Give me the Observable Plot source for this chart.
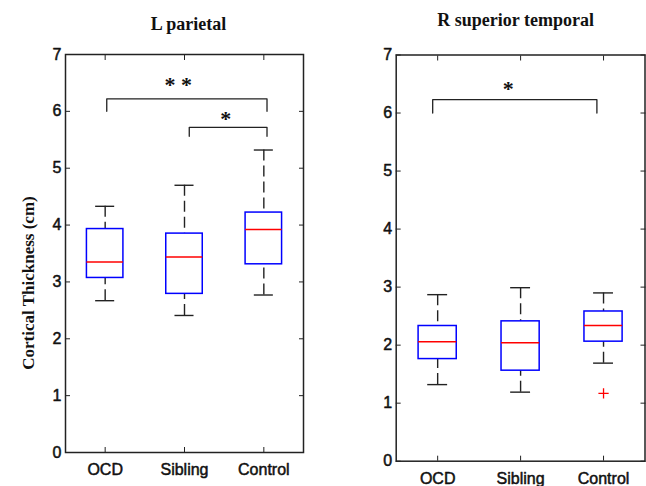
<!DOCTYPE html>
<html><head><meta charset="utf-8">
<script src="https://cdn.jsdelivr.net/npm/d3@7"></script>
<script src="https://cdn.jsdelivr.net/npm/@observablehq/plot@0.6"></script>
<style>
body{margin:0;background:#fff;}
#wrap{position:relative;width:646px;height:486px;overflow:hidden;background:#fff;}
#wrap svg{position:absolute;top:0;}
#ylabel{position:absolute;left:28px;top:282.5px;transform:translate(-50%,-50%) rotate(-90deg);
  white-space:nowrap;font:bold 17px 'Liberation Serif','Times New Roman',serif;color:#111;line-height:1;}
</style></head><body><div id="wrap"><div id="ylabel"></div></div>
<script>
const categories = ["OCD", "Sibling", "Control"];
const yTicks = [0, 1, 2, 3, 4, 5, 6, 7];
const xTicks = [1, 2, 3];
const yLabel = "Cortical Thickness (cm)";

// L parietal
const lpLow  = [2.67, 2.41, 2.77];
const lpQ1   = [3.07, 2.79, 3.31];
const lpMed  = [3.35, 3.44, 3.92];
const lpQ3   = [3.93, 3.85, 4.22];
const lpHigh = [4.33, 4.70, 5.32];
const lpOutliers = [];
const lpBrackets = [
  {x1: 1.02, x2: 3.04, y: 6.22, base: 6.0, label: "* *", lx: 1.92, ly: 6.54},
  {x1: 2.06, x2: 3.04, y: 5.72, base: 5.56, label: "*", lx: 2.52, ly: 5.93}
];

// R superior temporal
const rstLow  = [1.32, 1.19, 1.69];
const rstQ1   = [1.76, 1.56, 2.06];
const rstMed  = [2.06, 2.04, 2.34];
const rstQ3   = [2.33, 2.41, 2.58];
const rstHigh = [2.87, 2.99, 2.90];
const rstOutliers = [{pos: 3, value: 1.17}];
const rstBrackets = [
  {x1: 0.94, x2: 2.92, y: 6.23, base: 6.0, label: "*", lx: 1.85, ly: 6.48}
];

const BOX_HALF = 0.23, CAP_HALF = 0.12;
const INK = "#222";

function panel(o) {
  const data = categories.map((c, i) => ({
    pos: i + 1, low: o.low[i], q1: o.q1[i], med: o.med[i], q3: o.q3[i], high: o.high[i]
  }));
  const bpts = o.brackets.flatMap((b, i) => [
    {id: i, x: b.x1, y: b.base}, {id: i, x: b.x1, y: b.y},
    {id: i, x: b.x2, y: b.y}, {id: i, x: b.x2, y: b.base}
  ]);
  const serif = "'Liberation Serif', 'Times New Roman', serif";
  const marks = [
    Plot.frame({stroke: INK, strokeWidth: 1.5}),
    Plot.axisY({anchor: "left", ticks: yTicks, tickSize: 5, dx: 5, fill: "none", label: null, stroke: INK}),
    Plot.axisY({anchor: "right", ticks: yTicks, tickSize: 5, dx: -5, fill: "none", label: null, stroke: INK}),
    Plot.axisX({anchor: "bottom", ticks: xTicks, tickSize: 5, dy: -5, fill: "none", label: null, stroke: INK}),
    Plot.axisX({anchor: "top", ticks: xTicks, tickSize: 5, dy: 5, fill: "none", label: null, stroke: INK}),
    Plot.axisY({anchor: "left", ticks: yTicks, tickSize: 0, tickPadding: 4, label: null, fill: "#111",
      tickFormat: d => String(d), textStroke: "#111", textStrokeWidth: 0.5}),
    Plot.axisX({anchor: "bottom", ticks: xTicks, tickSize: 0, tickPadding: 11, label: null, fill: "#111",
      tickFormat: d => categories[d - 1], textStroke: "#111", textStrokeWidth: 0.5}),
    // whiskers (dashed)
    Plot.ruleX(data, {x: "pos", y1: "high", y2: "q3", stroke: INK, strokeWidth: 1.4, strokeDasharray: "11,5"}),
    Plot.ruleX(data, {x: "pos", y1: "low", y2: "q1", stroke: INK, strokeWidth: 1.4, strokeDasharray: "11,5"}),
    // caps
    Plot.ruleY(data, {y: "high", x1: d => d.pos - CAP_HALF, x2: d => d.pos + CAP_HALF, stroke: INK, strokeWidth: 1.4}),
    Plot.ruleY(data, {y: "low", x1: d => d.pos - CAP_HALF, x2: d => d.pos + CAP_HALF, stroke: INK, strokeWidth: 1.4}),
    // boxes
    Plot.rect(data, {x1: d => d.pos - BOX_HALF, x2: d => d.pos + BOX_HALF, y1: "q1", y2: "q3",
      fill: "none", stroke: "#0000ff", strokeWidth: 1.5}),
    // medians
    Plot.ruleY(data, {y: "med", x1: d => d.pos - BOX_HALF, x2: d => d.pos + BOX_HALF, stroke: "#ff0000", strokeWidth: 1.5}),
    // outliers
    Plot.dot(o.outliers, {x: "pos", y: "value", symbol: "plus", r: 3.4, stroke: "#ff0000", strokeWidth: 1.3}),
    // significance brackets
    Plot.line(bpts, {x: "x", y: "y", z: "id", stroke: INK, strokeWidth: 1.3}),
    Plot.text(o.brackets, {x: "lx", y: "ly", text: "label", fontSize: 22, fontWeight: "bold",
      fontFamily: serif, fill: "#111", dy: 4}),
    // title
    Plot.text([o.title], {frameAnchor: "top", lineAnchor: "bottom", dx: o.titleDx, dy: o.titleDy,
      fontSize: 18, fontWeight: "bold", fontFamily: serif, fill: "#111"})
  ];
  const svg = Plot.plot({
    width: o.width, height: 486,
    marginLeft: o.marginLeft, marginRight: o.marginRight, marginTop: o.marginTop, marginBottom: o.marginBottom,
    x: {domain: [0.5, 3.5]},
    y: {domain: [0, 7]},
    style: {fontFamily: "'Liberation Sans', Arial, sans-serif", fontSize: "16px", background: "transparent", overflow: "visible"},
    marks
  });
  svg.style.left = o.left + "px";
  return svg;
}

const wrap = document.getElementById("wrap");
document.getElementById("ylabel").textContent = yLabel;
wrap.appendChild(panel({
  left: 0, width: 320, marginLeft: 65, marginRight: 17, marginTop: 54, marginBottom: 34,
  title: "L parietal", titleDx: 4, titleDy: -25,
  low: lpLow, q1: lpQ1, med: lpMed, q3: lpQ3, high: lpHigh, outliers: lpOutliers, brackets: lpBrackets
}));
wrap.appendChild(panel({
  left: 320, width: 326, marginLeft: 75.7, marginRight: 1.5, marginTop: 54.5, marginBottom: 25.3,
  title: "R superior temporal", titleDx: -5, titleDy: -29.5,
  low: rstLow, q1: rstQ1, med: rstMed, q3: rstQ3, high: rstHigh, outliers: rstOutliers, brackets: rstBrackets
}));
</script>
</body></html>
